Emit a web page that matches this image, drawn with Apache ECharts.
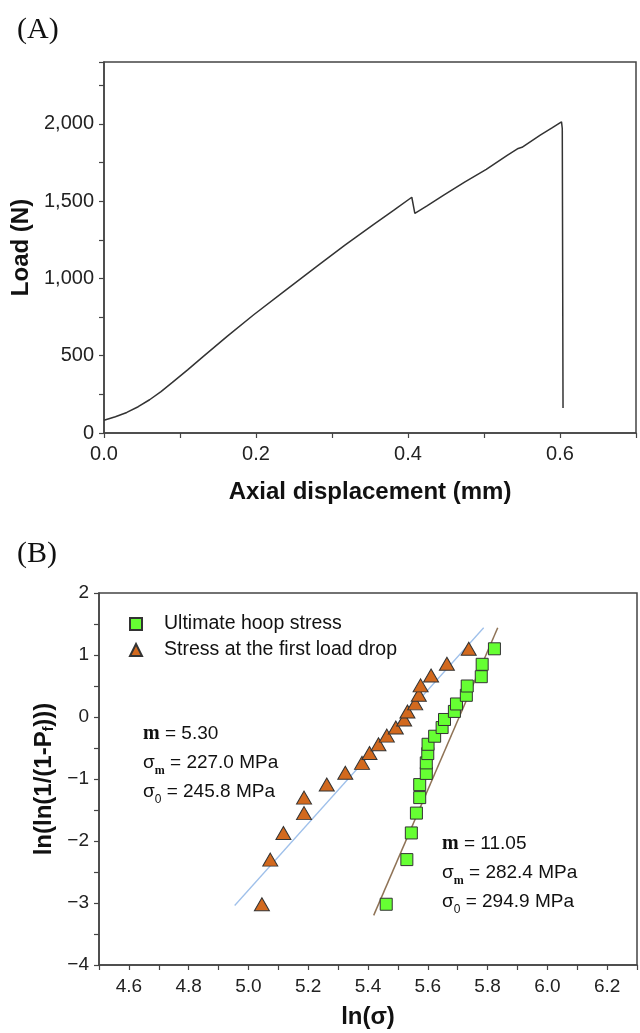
<!DOCTYPE html>
<html>
<head>
<meta charset="utf-8">
<script src="https://cdn.jsdelivr.net/npm/echarts@6/dist/echarts.min.js"></script>
<style>
  html, body { margin: 0; padding: 0; background: #fff; }
  #chart { width: 640px; height: 1033px; }
</style>
</head>
<body>
<div id="chart"></div>
<script>
// (A) load - displacement curve
const dispA = [0, 0.015, 0.03, 0.045, 0.06, 0.075, 0.09, 0.11, 0.13, 0.162, 0.197, 0.237, 0.28, 0.317,
  0.354, 0.381, 0.405, 0.409, 0.425, 0.447, 0.475, 0.503, 0.53, 0.545, 0.55, 0.574, 0.59, 0.602, 0.603, 0.604, 0.604];
const loadA = [82, 105, 133, 170, 215, 268, 327, 408, 492, 625, 765, 916, 1078, 1215,
  1347, 1440, 1525, 1421, 1470, 1539, 1625, 1705, 1795, 1841, 1848, 1927, 1975, 2013, 1970, 1960, 161];

// (B) Weibull plot
const hoopX = [5.461, 5.530, 5.545, 5.562, 5.573, 5.573, 5.595, 5.595, 5.600, 5.601,
  5.623, 5.648, 5.656, 5.689, 5.696, 5.729, 5.732, 5.779, 5.782, 5.823];
const hoopY = [-3.02, -2.30, -1.87, -1.55, -1.30, -1.09, -0.91, -0.74, -0.59, -0.44,
  -0.31, -0.17, -0.04, 0.09, 0.21, 0.35, 0.50, 0.65, 0.85, 1.10];
const dropX = [5.045, 5.073, 5.117, 5.186, 5.186, 5.262, 5.324, 5.380, 5.405, 5.435,
  5.463, 5.493, 5.521, 5.532, 5.558, 5.570, 5.576, 5.611, 5.664, 5.737];
const dropY = [-3.02, -2.30, -1.87, -1.55, -1.30, -1.09, -0.90, -0.74, -0.58, -0.44,
  -0.30, -0.17, -0.04, 0.09, 0.22, 0.36, 0.51, 0.67, 0.86, 1.10];
const fitDropX = [4.954, 5.787];
const fitDropY = [-3.04, 1.44];
const fitHoopX = [5.419, 5.834];
const fitHoopY = [-3.20, 1.44];

const seriesNames = ['Ultimate hoop stress', 'Stress at the first load drop'];
const notesLeft = ['{m|m} = 5.30', 'σ{subm|m} = 227.0 MPa', 'σ{sub|0} = 245.8 MPa'];
const notesRight = ['{m|m} = 11.05', 'σ{subm|m} = 282.4 MPa', 'σ{sub|0} = 294.9 MPa'];

const FONT = 'Liberation Sans, Arial, sans-serif';
const AXIS = '#444';

function zip(xs, ys) { return xs.map((x, i) => [x, ys[i]]); }

function baseAxis(extra) {
  return Object.assign({
    type: 'value',
    axisLine: { show: true, onZero: false, lineStyle: { color: AXIS, width: 1.5 } },
    axisTick: { show: true, inside: false, length: 5, lineStyle: { color: AXIS, width: 1.2 } },
    splitLine: { show: false },
    nameLocation: 'middle',
    nameTextStyle: { fontFamily: FONT, fontWeight: 'bold', fontSize: 24, color: '#111' }
  }, extra);
}

const labelA = { fontFamily: FONT, fontSize: 20, color: '#222' };
const labelB = { fontFamily: FONT, fontSize: 19, color: '#222' };
const richNote = {
  m: { fontFamily: 'Liberation Serif, serif', fontWeight: 'bold', fontSize: 20, lineHeight: 29 },
  subm: { fontFamily: 'Liberation Serif, serif', fontWeight: 'bold', fontSize: 12, lineHeight: 14, verticalAlign: 'bottom' },
  sub: { fontFamily: FONT, fontSize: 12, lineHeight: 14, verticalAlign: 'bottom' }
};

const chart = echarts.init(document.getElementById('chart'));

chart.setOption({
  animation: false,
  backgroundColor: '#fff',
  title: [
    { text: '(A)', left: 12, top: 10, padding: 5, textStyle: { fontFamily: 'Liberation Serif, serif', fontWeight: 'normal', fontSize: 30, color: '#111' } },
    { text: '(B)', left: 12, top: 534, padding: 5, textStyle: { fontFamily: 'Liberation Serif, serif', fontWeight: 'normal', fontSize: 30, color: '#111' } }
  ],
  grid: [
    { left: 104, top: 62, right: 4, bottom: 600, show: true, borderColor: AXIS, borderWidth: 1.5, containLabel: false, outerBoundsMode: 'none' },
    { left: 99, top: 593, right: 3, bottom: 68, show: true, borderColor: AXIS, borderWidth: 1.5, containLabel: false, outerBoundsMode: 'none' }
  ],
  xAxis: [
    baseAxis({
      gridIndex: 0, min: 0, max: 0.7, interval: 0.1,
      axisLabel: Object.assign({ margin: 11, formatter: v => (Math.round(v * 10) % 2 === 0 ? v.toFixed(1) : '') }, labelA),
      name: 'Axial displacement (mm)', nameGap: 47
    }),
    baseAxis({
      gridIndex: 1, min: 4.5, max: 6.3, interval: 0.1,
      axisLabel: Object.assign({ margin: 12, formatter: v => (Math.round(v * 10) % 2 === 0 ? v.toFixed(1) : '') }, labelB),
      name: 'ln(σ)', nameGap: 40
    })
  ],
  yAxis: [
    baseAxis({
      gridIndex: 0, min: 0, max: 2400, interval: 250,
      axisLabel: Object.assign({ margin: 10, formatter: v => (Math.round(v) % 500 === 0 ? Math.round(v).toLocaleString('en-US') : '') }, labelA),
      name: 'Load (N)', nameGap: 67
    }),
    baseAxis({
      gridIndex: 1, min: -4, max: 2, interval: 0.5,
      axisLabel: Object.assign({ margin: 10, formatter: v => (Math.abs(v - Math.round(v)) < 1e-6 ? (v < 0 ? '\u2212' + Math.abs(Math.round(v)) : String(Math.round(v))) : '') }, labelB),
      name: 'ln(ln(1/(1-P{sub|f})))', nameGap: 41,
      nameTextStyle: {
        fontFamily: FONT, fontWeight: 'bold', fontSize: 24, color: '#111',
        rich: { sub: { fontFamily: FONT, fontWeight: 'bold', fontSize: 14, verticalAlign: 'bottom', lineHeight: 12 } }
      }
    })
  ],
  legend: {
    data: [{ name: seriesNames[0], icon: 'rect' }, { name: seriesNames[1], icon: 'triangle' }],
    orient: 'vertical', left: 129, top: 614, padding: 0,
    itemWidth: 12, itemHeight: 12, itemGap: 6,
    textStyle: { fontFamily: FONT, fontSize: 19.5, lineHeight: 18, color: '#111', padding: [0, 0, 0, 17] }
  },
  series: [
    {
      type: 'line', xAxisIndex: 0, yAxisIndex: 0,
      data: zip(dispA, loadA), showSymbol: false, symbol: 'none',
      lineStyle: { color: '#333', width: 1.5 }
    },
    {
      type: 'line', xAxisIndex: 1, yAxisIndex: 1, z: 2,
      data: zip(fitDropX, fitDropY), symbol: 'none',
      lineStyle: { color: '#9fc0ea', width: 1.3 }
    },
    {
      type: 'line', xAxisIndex: 1, yAxisIndex: 1, z: 2,
      data: zip(fitHoopX, fitHoopY), symbol: 'none',
      lineStyle: { color: '#8f7356', width: 1.5 }
    },
    {
      name: seriesNames[0], type: 'scatter', xAxisIndex: 1, yAxisIndex: 1, z: 3,
      data: zip(hoopX, hoopY), symbol: 'rect', symbolSize: 12,
      itemStyle: { color: '#66ff33', borderColor: '#333', borderWidth: 1, opacity: 1 }
    },
    {
      name: seriesNames[1], type: 'scatter', xAxisIndex: 1, yAxisIndex: 1, z: 3,
      data: zip(dropX, dropY), symbol: 'triangle', symbolSize: [15, 13],
      itemStyle: { color: '#d2691e', borderColor: '#333', borderWidth: 1, opacity: 1 }
    }
  ],
  graphic: [
    {
      type: 'text', left: 143, top: 719, z: 10,
      style: { text: notesLeft.join('\n'), fontFamily: FONT, fontSize: 19, lineHeight: 29, fill: '#111', rich: richNote }
    },
    {
      type: 'text', left: 442, top: 829, z: 10,
      style: { text: notesRight.join('\n'), fontFamily: FONT, fontSize: 19, lineHeight: 29, fill: '#111', rich: richNote }
    }
  ]
});
</script>
</body>
</html>
